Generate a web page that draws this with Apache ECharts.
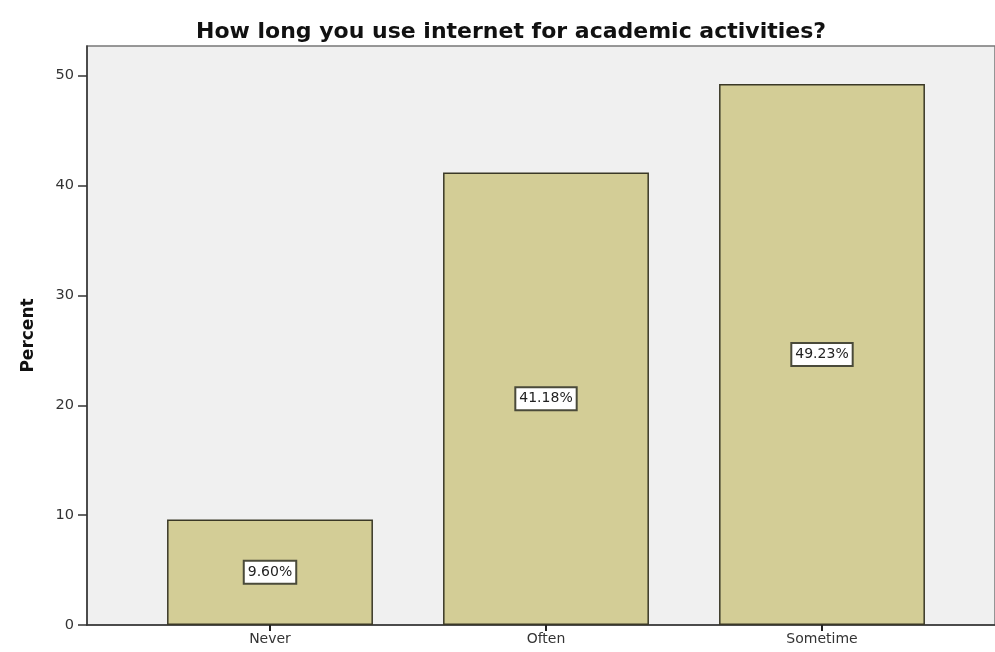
<!DOCTYPE html>
<html>
<head>
<meta charset="utf-8">
<script src="https://cdn.jsdelivr.net/npm/echarts@6/dist/echarts.min.js"></script>
<style>html,body{margin:0;padding:0;background:#fff}#c{width:995px;height:652px}</style>
</head>
<body>
<div id="c"></div>
<script>
const titleText = "How long you use internet for academic activities?";
const categories = ["Never", "Often", "Sometime"];
const percentValues = [9.60, 41.18, 49.23];
const yTicks = [0, 10, 20, 30, 40, 50];
const yAxisName = "Percent";

const yMax = 52.7;
const FONT = 'DejaVu Sans, Liberation Sans, Arial';
const chart = echarts.init(document.getElementById('c'), null, {renderer: 'canvas'});
chart.setOption({
  backgroundColor: '#ffffff',
  animation: false,
  title: {
    text: titleText, left: 506, top: 16, textAlign: 'center',
    textStyle: {fontFamily: FONT, fontWeight: 'bold', fontSize: 22, color: '#111'}
  },
  grid: [
    {left: 87, right: 0, top: 46, bottom: 27, show: true, backgroundColor: '#f0f0f0', borderColor: '#777', borderWidth: 1.5},
    {left: 132, width: 828, top: 46, bottom: 27}
  ],
  xAxis: [
    {gridIndex: 0, type: 'value', min: 0, max: 1, show: true,
     axisLine: {show: true, onZero: false, lineStyle: {color: '#333', width: 1.5}},
     axisTick: {show: false}, axisLabel: {show: false}, splitLine: {show: false}},
    {gridIndex: 1, type: 'category', data: categories, boundaryGap: true,
     axisLine: {show: false}, axisTick: {show: true, alignWithLabel: true, length: 6, lineStyle: {color: '#222', width: 2}},
     axisLabel: {color: '#333', fontSize: 14, fontFamily: FONT, margin: 7}}
  ],
  yAxis: [
    {gridIndex: 0, type: 'value', min: 0, max: yMax, interval: 10,
     name: yAxisName, nameLocation: 'middle', nameGap: 50, nameRotate: 90,
     nameTextStyle: {fontFamily: FONT, fontWeight: 'bold', fontSize: 17, color: '#111'},
     axisLine: {show: true, lineStyle: {color: '#333', width: 1.5}},
     axisTick: {show: true, length: 9, customValues: yTicks, lineStyle: {color: '#333', width: 1.5}},
     axisLabel: {color: '#333', fontSize: 14.5, fontFamily: FONT, margin: 13, customValues: yTicks},
     splitLine: {show: false}},
    {gridIndex: 1, type: 'value', min: 0, max: yMax, show: false}
  ],
  series: [{
    type: 'bar', xAxisIndex: 1, yAxisIndex: 1,
    data: percentValues,
    barCategoryGap: '25.4%',
    itemStyle: {color: '#d3cd96', borderColor: '#3a3826', borderWidth: 1.5},
    label: {
      show: true, position: 'inside',
      formatter: p => p.value.toFixed(2) + '%',
      color: '#222', fontSize: 14, fontFamily: FONT,
      backgroundColor: '#ffffff', borderColor: '#4a4a3a', borderWidth: 2,
      padding: [4, 3, 3, 3]
    }
  }]
});
</script>
</body>
</html>
